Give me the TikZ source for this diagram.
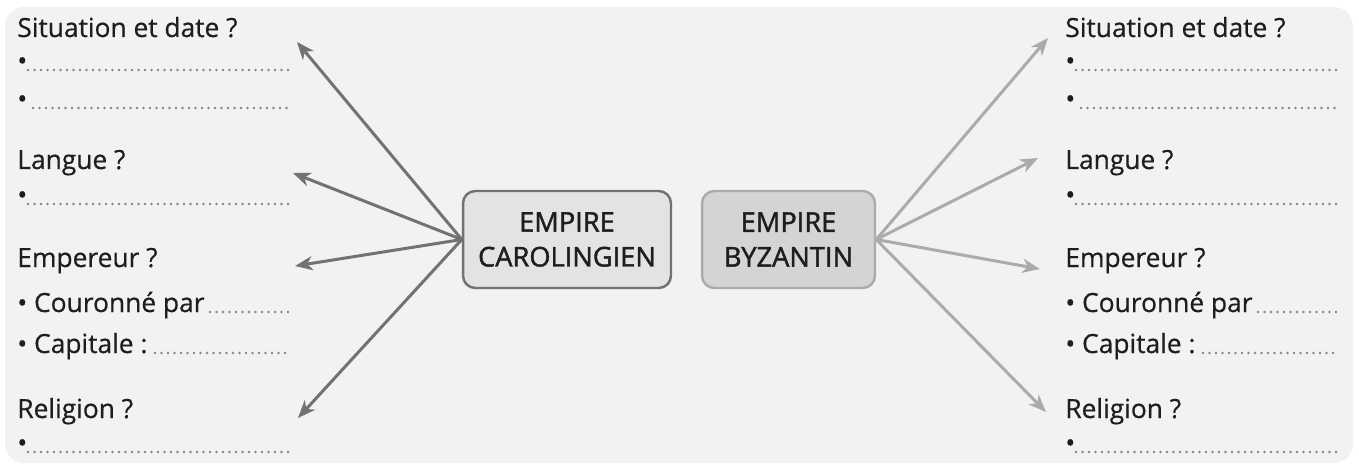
\documentclass[tikz,border=0pt]{standalone}
\usepackage{fontspec}
\setmainfont{Open Sans}[FakeBold=0.5]
\newfontface\boxfont{Open Sans}[FakeBold=1.6]
\usetikzlibrary{arrows.meta}
\definecolor{panel}{HTML}{F2F2F2}
\definecolor{carofill}{HTML}{E3E3E3}
\definecolor{carodraw}{HTML}{727272}
\definecolor{byzfill}{HTML}{D4D4D4}
\definecolor{byzdraw}{HTML}{ABABAB}
\definecolor{ink}{HTML}{1E1E1E}
\definecolor{dotgray}{HTML}{858585}

\tikzset{
  question/.style={anchor=base west, inner sep=0pt, text=ink, font=\fontsize{15}{18}\selectfont},
  blank/.style={dotgray, line width=1.5pt, line cap=round, dash pattern=on 0pt off 3.7pt},
  empire/.style={rounded corners=7pt, line width=1.4pt, minimum height=1.94cm, align=center,
    text=ink, font=\boxfont\fontsize{15.5}{19.8}\selectfont},
  branch/.style={line width=1.7pt, -{Stealth[length=10pt,width=8pt,inset=3pt]}},
}

\begin{document}
\begin{tikzpicture}[x=0.02cm, y=-0.02cm]
      % panel
      \useasboundingbox (0,0) rectangle (1359,466);
      \fill[white] (0,0) rectangle (1359,466);
      \fill[panel, rounded corners=11pt] (5,7) rectangle (1353,463);

      % the two empires
      \node[empire, draw=carodraw, fill=carofill, minimum width=4.16cm] (caro) at (567,239.5) {EMPIRE\\CAROLINGIEN};
      \node[empire, draw=byzdraw, fill=byzfill, minimum width=3.46cm] (byz) at (788.5,239.5) {EMPIRE\\BYZANTIN};

      % questions, same on both sides
      \foreach \dx/\side in {0/l, 1048/r} {
        \node[question] (sit-\side) at (17+\dx,37) {Situation et date ?};
        \node[question] (sitA-\side) at (17+\dx,70) {•};
        \draw[blank] (28+\dx,70) -- (290+\dx,70);
        \node[question] (sitB-\side) at (17+\dx,108) {•};
        \draw[blank] (33+\dx,108) -- (288+\dx,108);

        \node[question] (lang-\side) at (17+\dx,169) {Langue ?};
        \node[question] (langA-\side) at (17+\dx,204) {•};
        \draw[blank] (28+\dx,204) -- (290+\dx,204);

        \node[question] (emp-\side) at (17+\dx,267) {Empereur ?};
        \node[question] (empA-\side) at (17+\dx,312) {• Couronné par};
        \draw[blank] (210+\dx,312) -- (290+\dx,312);
        \node[question] (empB-\side) at (17+\dx,353) {• Capitale :};
        \draw[blank] (155+\dx,353) -- (290+\dx,353);

        \node[question] (rel-\side) at (17+\dx,418) {Religion ?};
        \node[question] (relA-\side) at (17+\dx,452) {•};
        \draw[blank] (28+\dx,452) -- (290+\dx,452);
      }

      % arrow ends
      \coordinate (to-sit-l) at (297,42);
      \coordinate (to-lang-l) at (293,173);
      \coordinate (to-emp-l) at (295,266);
      \coordinate (to-rel-l) at (298,418);
      \coordinate (to-sit-r) at (1048,38);
      \coordinate (to-lang-r) at (1038,158);
      \coordinate (to-emp-r) at (1040,269);
      \coordinate (to-rel-r) at (1046,412);

      % branches
      \foreach \q in {sit, lang, emp, rel} {
        \draw[branch, carodraw] (caro.west) -- (to-\q-l);
        \draw[branch, byzdraw] (byz.east) -- (to-\q-r);
      }
\end{tikzpicture}
\end{document}
